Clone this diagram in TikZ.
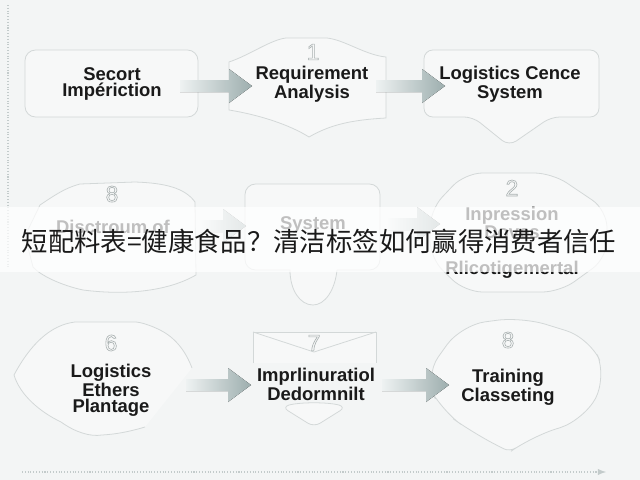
\documentclass[tikz,border=0pt]{standalone}
\usepackage{fontspec}
\usepackage{xcolor}
\setmainfont{Liberation Sans}
\newfontfamily\cjk{Noto Sans CJK SC}
\usetikzlibrary{calc}

\definecolor{bgcol}{HTML}{F3F5F5}
\definecolor{boxfill}{HTML}{F7F8F8}
\definecolor{edgecol}{HTML}{D3D8D8}
\definecolor{inkcol}{HTML}{1A1A1A}
\definecolor{numcol}{HTML}{A9B1B1}
\definecolor{arrlight}{HTML}{EEF2F2}
\definecolor{arrdark}{HTML}{9DAEAE}
\definecolor{dotcol}{HTML}{C3CBCB}

\newcommand{\hollow}[1]{\special{pdf:literal direct 1 Tr 0.35 w}#1\special{pdf:literal direct 0 Tr}}

\newcommand{\flowarrow}[2]{%
  \fill[left color=arrlight, right color=arrdark]
    ($(#1)+(0,-6)$) -- ($(#2)+(-23,-6)$) -- ($(#2)+(-23,-17)$) -- (#2)
    -- ($(#2)+(-23,17)$) -- ($(#2)+(-23,6)$) -- ($(#1)+(0,6)$) -- cycle;}

\tikzset{
  lbl/.style={text=inkcol, font=\bfseries\fontsize{10.5}{9.2}\selectfont, align=center, inner sep=0pt},
  num/.style={text=numcol, font=\fontsize{13}{13}\selectfont, inner sep=0pt},
  outline/.style={draw=edgecol, line width=0.45pt, fill=boxfill},
}

\begin{document}
\begin{tikzpicture}[x=0.02cm, y=-0.02cm]
    \fill[bgcol] (0,0) rectangle (640,480);
    \useasboundingbox (0,0) rectangle (640,480);

    % guide lines
    \draw[dotcol, densely dotted, line width=0.6pt] (8,5) -- (8,268);
    \draw[dotcol, densely dotted, line width=0.6pt, -latex] (22,472) -- (606,472);

    % row 1 shapes
    \draw[outline, rounded corners=6] (25,50) rectangle (198,117);
    \draw[outline] (229,62) .. controls (250,55) and (270,40) .. (286,38) -- (327,38)
        .. controls (345,40) and (365,55) .. (386,57) -- (386,118)
        .. controls (350,120) and (330,125) .. (309,137)
        .. controls (290,125) and (260,115) .. (229,110) -- cycle;
    \draw[outline, rounded corners=5] (424,50) -- (599,50) -- (599,117) -- (551,117)
        -- (509,146) -- (473,117) -- (424,117) -- cycle;

    % row 2 shapes
    \draw[outline] (40,205) .. controls (55,195) and (65,188) .. (80,184) -- (135,182)
        .. controls (165,183) and (185,188) .. (195,202) -- (196,275)
        .. controls (170,290) and (130,296) .. (83,290)
        .. controls (60,285) and (40,275) .. (33,267) -- (25,236) -- cycle;
    \draw[outline, rounded corners=6] (290,270) -- (245,270) -- (245,184) -- (380,184)
        -- (380,270) -- (337,270);
    \draw[outline] (337,270) .. controls (335,290) and (325,305) .. (313,305)
        .. controls (300,305) and (290,290) .. (290,270);
    \draw[outline, rounded corners=10] (465,173) -- (552,173) -- (607,210) -- (607,258)
        -- (560,292) -- (465,292) -- (430,258) -- (430,210) -- cycle;

    % row 3 shapes
    \draw[outline] (192,368) .. controls (186,352) and (176,338) .. (160,330)
        .. controls (150,325) and (140,322) .. (135,322) -- (75,322)
        .. controls (50,325) and (30,345) .. (14,375)
        .. controls (20,395) and (40,412) .. (61,422)
        .. controls (75,432) and (90,437) .. (102,435)
        .. controls (120,434) and (135,430) .. (145,427);
    \draw[outline] (253,363) -- (253,332) -- (376,332) -- (376,363);
    \draw[edgecol, line width=0.45pt] (253,332) -- (314,352) -- (376,332);
    \draw[outline, rounded corners=4] (282,407) .. controls (300,402) and (328,402) .. (346,407)
        -- (314,427) -- cycle;
    \draw[outline, rounded corners=14] (424,377) -- (461,325) -- (522,317) -- (590,338)
        -- (607,377) -- (584,420) -- (531,437) [rounded corners=4] -- (510,452)
        [rounded corners=14] -- (473,433) -- (441,410) -- cycle;

    % connector ends
    \coordinate (a1s) at (180,86);
    \coordinate (a1e) at (252,86);
    \coordinate (a2s) at (376,86);
    \coordinate (a2e) at (445,86);
    \coordinate (b1s) at (200,226);
    \coordinate (b1e) at (246,226);
    \coordinate (b2s) at (388,224);
    \coordinate (b2e) at (440,224);
    \coordinate (c1s) at (186,385);
    \coordinate (c1e) at (251,385);
    \coordinate (c2s) at (382,385);
    \coordinate (c2e) at (449,385);

    \flowarrow{a1s}{a1e}
    \flowarrow{a2s}{a2e}
    \flowarrow{b1s}{b1e}
    \flowarrow{b2s}{b2e}
    \flowarrow{c1s}{c1e}
    \flowarrow{c2s}{c2e}

    % labels
    \node[lbl] at (112,84) (secort) {Secort\\Impériction};
    \node[num] at (313,52) (num1) {\hollow{1}};
    \node[lbl] at (312,84) (reqana) {Requirement\\Analysis};
    \node[lbl] at (510,84) (logcen) {Logistics Cence\\System};

    \node[num] at (112,194) (num8a) {\hollow{8}};
    \node[lbl] at (113,227) (disctr) {Disctroum of};
    \node[lbl] at (313,225) (sysdes) {System};
    \node[num] at (512,188) (num2) {\hollow{2}};
    \node[lbl, anchor=north] at (512,207) (inpres) {Inpression\\Doves\\[11pt]Rlicotigemertal};

    \node[num] at (111,343) (num6) {\hollow{6}};
    \node[lbl] at (111,390) (logeth) {Logistics\\Ethers\\Plantage};
    \node[num] at (314,343) (num7) {\hollow{7}};
    \node[lbl] at (316,384) (imprli) {Imprlinuratiol\\Dedormnilt};
    \node[num] at (508,340) (num8b) {\hollow{8}};
    \node[lbl] at (508,387) (traini) {Training\\Classeting};

    % title band
    \fill[white, opacity=0.72] (0,207) rectangle (640,272);
    \node[text=inkcol, font=\cjk\fontsize{15}{16}\selectfont, inner sep=0pt] at (319,241) (title)
        {短配料表=健康食品？清洁标签如何赢得消费者信任};
\end{tikzpicture}
\end{document}
